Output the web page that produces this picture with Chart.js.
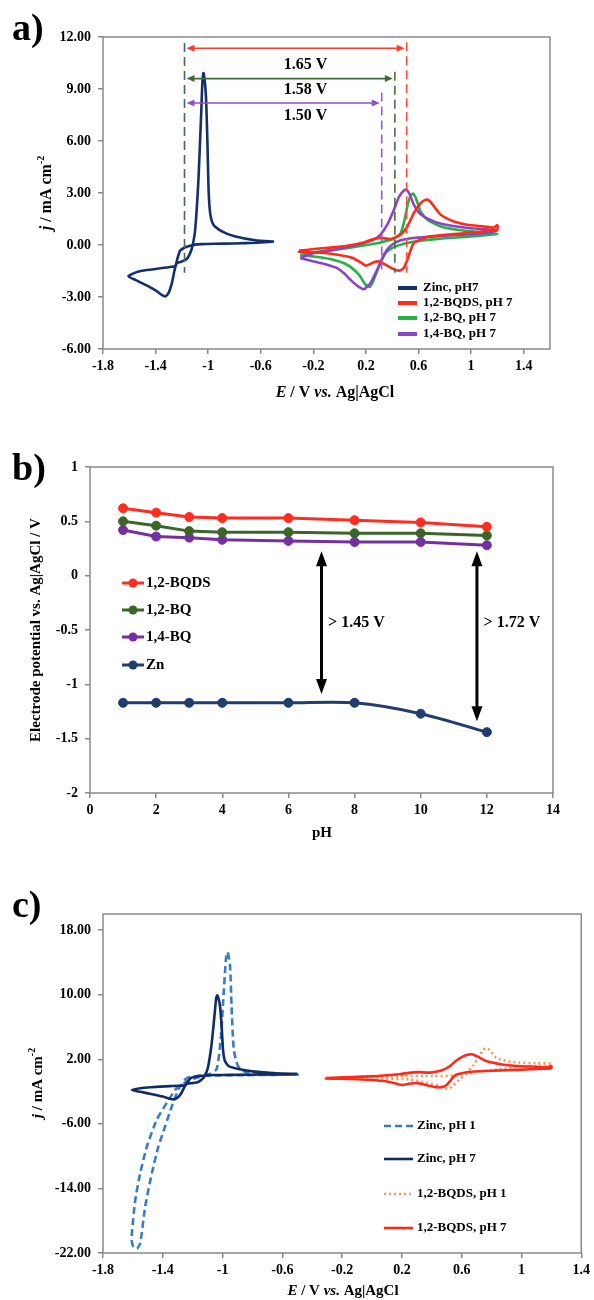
<!DOCTYPE html>
<html>
<head>
<meta charset="utf-8">
<script src="https://cdn.jsdelivr.net/npm/chart.js@4.4.1/dist/chart.umd.min.js"></script>
<style>
  body { margin: 0; background: #fff; }
  #wrap { position: relative; width: 594px; height: 1300px; }
  canvas { position: absolute; left: 0; }
</style>
</head>
<body>
<div id="wrap">
  <canvas id="chart-a" width="594" height="410" style="top:0px"></canvas>
  <canvas id="chart-b" width="594" height="440" style="top:410px"></canvas>
  <canvas id="chart-c" width="594" height="450" style="top:850px"></canvas>
</div>
<script>
// ---- panel a: CVs at pH 7 (E in V vs Ag|AgCl, j in mA cm-2) ----
var zincE = [-0.50, -0.64, -0.80, -0.95, -1.05, -1.10, -1.14, -1.175, -1.213, -1.233, -1.251, -1.30, -1.353, -1.48, -1.55, -1.607,
             -1.55, -1.48, -1.40, -1.353, -1.327, -1.302, -1.276, -1.255, -1.238, -1.20, -1.163, -1.137, -1.12, -1.099, -1.074,
             -1.053, -1.043, -1.035, -1.017, -1.005, -0.997, -0.985, -0.96, -0.895, -0.80, -0.64, -0.50];
var zincJ = [0.20, 0.13, 0.09, 0.07, 0.05, 0.02, -0.05, -0.13, -0.32, -0.76, -1.20, -1.28, -1.33, -1.46, -1.58, -1.81,
             -2.03, -2.29, -2.62, -2.88, -2.97, -2.78, -2.20, -1.43, -1.05, -0.95, -0.81, -0.47, -0.08, 0.88, 3.77,
             7.62, 9.54, 9.92, 8.58, 5.70, 3.20, 1.84, 1.17, 0.79, 0.50, 0.27, 0.20];

var bqdsE = [-0.31, -0.197, -0.07, 0.057, 0.184, 0.26, 0.311, 0.388, 0.464, 0.515, 0.565, 0.616, 0.654, 0.68, 0.718, 0.769, 0.87, 0.97, 1.10, 1.17, 1.20,
             1.20, 1.15, 0.97, 0.82, 0.667, 0.565, 0.54, 0.515, 0.49, 0.464, 0.43, 0.40, 0.35, 0.30, 0.26, 0.20, 0.16, 0.10, 0.057, -0.07, -0.197, -0.31, -0.31];
var bqdsJ = [-0.34, -0.23, -0.15, -0.04, 0.15, 0.35, 0.41, 0.35, 0.60, 1.07, 1.85, 2.42, 2.61, 2.57, 2.23, 1.75, 1.36, 1.17, 1.07, 1.00, 1.15,
             0.90, 0.84, 0.69, 0.60, 0.46, 0.12, -0.30, -0.85, -1.30, -1.46, -1.46, -1.35, -1.14, -0.95, -1.00, -1.19, -1.00, -0.75, -0.66, -0.50, -0.42, -0.38, -0.34];

var bq12E = [-0.30, -0.197, -0.07, 0.057, 0.184, 0.311, 0.413, 0.464, 0.494, 0.52, 0.545, 0.56, 0.585, 0.616, 0.667, 0.769, 0.895, 1.02, 1.15, 1.20,
             1.15, 0.946, 0.769, 0.616, 0.515, 0.413, 0.35, 0.30, 0.26, 0.23, 0.197, 0.146, 0.057, -0.07, -0.197, -0.30];
var bq12J = [-0.58, -0.42, -0.31, -0.18, -0.02, 0.15, 0.35, 0.69, 1.46, 2.42, 2.90, 2.96, 2.60, 1.94, 1.46, 1.07, 0.88, 0.77, 0.65, 0.63,
             0.60, 0.46, 0.37, 0.25, 0.12, -0.12, -0.46, -1.23, -2.00, -2.42, -2.29, -1.71, -1.14, -0.81, -0.66, -0.58];

var bq14E = [-0.30, -0.197, -0.07, 0.057, 0.184, 0.26, 0.311, 0.362, 0.413, 0.451, 0.489, 0.509, 0.534, 0.565, 0.616, 0.718, 0.82, 0.946, 1.15, 1.20,
             1.15, 0.946, 0.718, 0.565, 0.464, 0.388, 0.337, 0.286, 0.235, 0.184, 0.146, 0.095, 0.031, -0.019, -0.07, -0.121, -0.197, -0.30];
var bq14J = [-0.75, -0.46, -0.31, -0.12, 0.12, 0.31, 0.60, 1.17, 2.04, 2.77, 3.15, 3.19, 2.90, 2.32, 1.78, 1.36, 1.15, 1.01, 0.88, 0.85,
             0.73, 0.60, 0.50, 0.40, 0.27, -0.04, -0.56, -1.42, -2.19, -2.55, -2.42, -2.10, -1.62, -1.33, -1.20, -1.08, -0.95, -0.75];

// dashed reference potentials: Zn, 1,2-BQDS, 1,2-BQ, 1,4-BQ
var refE = [-1.18, 0.51, 0.42, 0.32];
var refTop = [11.65, 11.7, 10.0, 8.8];
var refBottom = [-1.6, -1.6, -1.6, -1.4];
var gapJ = [11.35, 9.6, 8.19];
var gapLabels = ["1.65 V", "1.58 V", "1.50 V"];
var gapLabelJ = [10.4, 8.96, 7.46];
var gapLabelE = -0.26;

var legendA = ["Zinc, pH7", "1,2-BQDS, pH 7", "1,2-BQ, pH 7", "1,4-BQ, pH 7"];
var xTicksA = [-1.8, -1.4, -1, -0.6, -0.2, 0.2, 0.6, 1, 1.4];
var yTicksA = [-6, -3, 0, 3, 6, 9, 12];

// ---- panel b: electrode potential vs pH ----
var pH = [1, 2, 3, 4, 6, 8, 10, 12];
var potBQDS = [0.62, 0.58, 0.54, 0.53, 0.53, 0.51, 0.49, 0.45];
var potBQ12 = [0.50, 0.46, 0.41, 0.40, 0.40, 0.39, 0.39, 0.37];
var potBQ14 = [0.42, 0.36, 0.35, 0.33, 0.32, 0.31, 0.31, 0.28];
var potZn = [-1.17, -1.17, -1.17, -1.17, -1.17, -1.17, -1.27, -1.44];
var legendB = ["1,2-BQDS", "1,2-BQ", "1,4-BQ", "Zn"];
var arrowPH = [7, 11.7];
var arrowTop = [0.225, 0.225];
var arrowBottom = [-1.09, -1.34];
var arrowLabels = ["> 1.45 V", "> 1.72 V"];
var arrowLabelPH = [7.2, 11.9];
var arrowLabelPot = -0.43;

// ---- panel c: pH 1 vs pH 7 (pH 7 curves are the ones of panel a) ----
var zincPH1E = [-0.49, -0.70, -0.90, -1.05, -1.128, -1.173, -1.217, -1.25, -1.306, -1.373, -1.44, -1.506, -1.551, -1.584, -1.607, -1.607,
                -1.596, -1.573, -1.551, -1.518, -1.473, -1.429, -1.384, -1.339, -1.295, -1.25, -1.217, -1.173, -1.128, -1.083, -1.039,
                -1.012, -0.995, -0.977, -0.966, -0.95, -0.94, -0.925, -0.897, -0.839, -0.684, -0.49];
var zincPH1J = [0.10, 0.06, 0.03, 0.0, -0.05, -0.28, -0.57, -0.90, -1.53, -3.39, -5.47, -8.79, -12.11, -15.43, -19.58, -20.60,
                -21.25, -21.45, -20.83, -16.26, -12.11, -8.79, -6.30, -3.81, -1.74, -0.49, -0.15, -0.08, 0.0, 0.2, 0.8,
                4.5, 9.5, 14.45, 15.28, 13.6, 8.64, 3.25, 1.17, 0.34, 0.13, 0.10];
var bqdsPH1E = [-0.31, -0.15, 0.073, 0.185, 0.407, 0.563, 0.63, 0.674, 0.719, 0.745, 0.763, 0.785, 0.83, 0.897, 0.986, 1.10, 1.20,
                1.20, 0.986, 0.852, 0.697, 0.63, 0.585, 0.54, 0.507, 0.452, 0.363, 0.251, 0.073, -0.15, -0.31];
var bqdsPH1J = [-0.35, -0.25, -0.15, -0.08, -0.08, 0.0, 0.34, 1.17, 2.41, 3.20, 3.37, 3.20, 2.20, 1.79, 1.59, 1.50, 1.45,
                1.20, 1.09, 0.75, 0.42, 0.10, -0.49, -1.32, -1.66, -1.32, -0.91, -0.49, -0.41, -0.40, -0.35];
var legendC = ["Zinc, pH 1", "Zinc, pH 7", "1,2-BQDS, pH 1", "1,2-BQDS, pH 7"];
var xTicksC = [-1.8, -1.4, -1, -0.6, -0.2, 0.2, 0.6, 1, 1.4];
var yTicksC = [-22, -14, -6, 2, 10, 18];

var serif = "'Liberation Serif', 'Times New Roman', serif";
var tickFont = { family: serif, weight: "bold", size: 14 };
var frameGray = "#8a8a8a";

function f(size, italic) {
    return (italic ? "italic " : "") + "bold " + size + "px " + serif;
}

function pts(xs, ys) {
    return xs.map(function(x, i) { return { x: x, y: ys[i] }; });
}

function curve(label, xs, ys, color, width, dash) {
    return {
        label: label,
        data: pts(xs, ys),
        showLine: true,
        borderColor: color,
        backgroundColor: color,
        borderWidth: width,
        borderDash: dash || [],
        pointRadius: 0,
        pointHoverRadius: 0,
        tension: 0.2,
        fill: false
    };
}

function fmtPlain(v) { return String(Math.round(v * 10) / 10); }
function fmt2(v) { return v.toFixed(2); }

function axis(min, max, tickList, fmt, size, isX) {
    var a = {
        type: "linear",
        min: min,
        max: max,
        grid: { drawOnChartArea: false, drawTicks: true, tickLength: 5, color: frameGray, lineWidth: 1.5 },
        border: { display: false },
        ticks: { color: "#000", font: tickFont, padding: isX ? 4 : 7, maxRotation: 0, autoSkip: false, callback: fmt }
    };
    if (tickList) {
        a.afterBuildTicks = function(s) { s.ticks = tickList.map(function(v) { return { value: v }; }); };
    }
    a.afterFit = function(s) { if (isX) { s.height = size; } else { s.width = size; } };
    return a;
}

// draws text made of several font runs, centred on (x, y)
function drawRich(ctx, parts, x, y, rotate) {
    ctx.save();
    ctx.translate(x, y);
    if (rotate) ctx.rotate(-Math.PI / 2);
    var total = 0;
    parts.forEach(function(p) { ctx.font = p.font; total += ctx.measureText(p.t).width; });
    var cx = -total / 2;
    ctx.textBaseline = "middle";
    ctx.textAlign = "left";
    ctx.fillStyle = "#000";
    parts.forEach(function(p) {
        ctx.font = p.font;
        ctx.fillText(p.t, cx, p.dy || 0);
        cx += ctx.measureText(p.t).width;
    });
    ctx.restore();
}

function doubleArrow(ctx, x1, y1, x2, y2, color, width, headLen, headHalf) {
    var dx = x2 - x1, dy = y2 - y1, len = Math.hypot(dx, dy);
    var ux = dx / len, uy = dy / len;
    ctx.save();
    ctx.strokeStyle = color;
    ctx.fillStyle = color;
    ctx.lineWidth = width;
    ctx.beginPath();
    ctx.moveTo(x1 + ux * headLen * 0.8, y1 + uy * headLen * 0.8);
    ctx.lineTo(x2 - ux * headLen * 0.8, y2 - uy * headLen * 0.8);
    ctx.stroke();
    [[x1, y1, -ux, -uy], [x2, y2, ux, uy]].forEach(function(h) {
        var tx = h[0], ty = h[1], vx = h[2], vy = h[3];
        ctx.beginPath();
        ctx.moveTo(tx, ty);
        ctx.lineTo(tx - vx * headLen - vy * headHalf, ty - vy * headLen + vx * headHalf);
        ctx.lineTo(tx - vx * headLen + vy * headHalf, ty - vy * headLen - vx * headHalf);
        ctx.closePath();
        ctx.fill();
    });
    ctx.restore();
}

function panelLabel(ctx, text, x, y) {
    ctx.save();
    ctx.font = "bold 38px " + serif;
    ctx.fillStyle = "#000";
    ctx.textAlign = "left";
    ctx.textBaseline = "alphabetic";
    ctx.fillText(text, x, y);
    ctx.restore();
}

var framePlugin = {
    id: "frame",
    beforeDatasetsDraw: function(chart) {
        var a = chart.chartArea, ctx = chart.ctx;
        ctx.save();
        ctx.strokeStyle = frameGray;
        ctx.lineWidth = 1.5;
        ctx.strokeRect(a.left, a.top, a.right - a.left, a.bottom - a.top);
        ctx.restore();
    }
};

function baseOptions(padding, xAxis, yAxis) {
    return {
        responsive: false,
        animation: false,
        devicePixelRatio: 1,
        layout: { padding: padding },
        plugins: { legend: { display: false }, tooltip: { enabled: false } },
        scales: { x: xAxis, y: yAxis }
    };
}

// ================= panel a =================
var colZinc = "#14306c", colRed = "#ff2a1a", colGreen = "#25b14a", colPurple = "#8d44c4";
var refColors = ["#4a5e86", "#ff4a3d", "#4d6d3c", "#9a58d2"];
var gapColors = ["#ff3b2f", "#3f6b35", "#9050c8"];

var dsA = [];
refE.forEach(function(e, i) {
    var d = curve("ref" + i, [e, e], [refTop[i], refBottom[i]], refColors[i], 1.6, [9, 5]);
    d.tension = 0;
    dsA.push(d);
});
dsA.push(curve(legendA[1], bqdsE, bqdsJ, colRed, 2.6));
dsA.push(curve(legendA[3], bq14E, bq14J, colPurple, 2.6));
dsA.push(curve(legendA[2], bq12E, bq12J, colGreen, 2.6));
dsA.push(curve(legendA[0], zincE, zincJ, colZinc, 2.6));

var annotA = {
    id: "annotA",
    afterDraw: function(chart) {
        var ctx = chart.ctx, sx = chart.scales.x, sy = chart.scales.y;
        var x0 = sx.getPixelForValue(refE[0]);
        gapJ.forEach(function(j, i) {
            var x1 = sx.getPixelForValue(refE[i + 1]);
            var y = sy.getPixelForValue(j);
            doubleArrow(ctx, x0 + 2, y, x1 - 2, y, gapColors[i], 1.6, 8, 3.5);
            ctx.save();
            ctx.font = f(16);
            ctx.fillStyle = "#000";
            ctx.textAlign = "center";
            ctx.textBaseline = "middle";
            ctx.fillText(gapLabels[i], sx.getPixelForValue(gapLabelE), sy.getPixelForValue(gapLabelJ[i]));
            ctx.restore();
        });
        // legend
        var legCols = [colZinc, colRed, colGreen, colPurple];
        var rows = [288, 303, 318, 334];
        ctx.save();
        legendA.forEach(function(t, i) {
            ctx.strokeStyle = legCols[i];
            ctx.lineWidth = 4;
            ctx.beginPath();
            ctx.moveTo(398, rows[i]);
            ctx.lineTo(417, rows[i]);
            ctx.stroke();
            ctx.font = f(13);
            ctx.fillStyle = "#000";
            ctx.textBaseline = "middle";
            ctx.textAlign = "left";
            ctx.fillText(t, 423, rows[i]);
        });
        ctx.restore();
        drawRich(ctx, [{ t: "j", font: f(16, true) }, { t: " / mA cm", font: f(16) }, { t: "-2", font: f(10), dy: -6 }], 47, 193, true);
        drawRich(ctx, [{ t: "E", font: f(16, true) }, { t: " / V ", font: f(16) }, { t: "vs.", font: f(16, true) }, { t: " Ag|AgCl", font: f(16) }], 335, 393, false);
        panelLabel(ctx, "a)", 12, 40);
    }
};

new Chart(document.getElementById("chart-a"), {
    type: "scatter",
    data: { datasets: dsA },
    options: baseOptions({ left: 0, top: 37, right: 44, bottom: 0 },
        axis(-1.8, 1.6, xTicksA, fmtPlain, 61, true),
        axis(-6, 12, yTicksA, fmt2, 103, false)),
    plugins: [framePlugin, annotA]
});

// ================= panel b =================
var colsB = ["#ff2d20", "#3a6627", "#7530a0", "#1f3d6e"];
var seriesB = [potBQDS, potBQ12, potBQ14, potZn];
var dsB = seriesB.map(function(vals, i) {
    return {
        label: legendB[i],
        data: pts(pH, vals),
        showLine: true,
        borderColor: colsB[i],
        backgroundColor: colsB[i],
        borderWidth: 3,
        pointRadius: 4.5,
        pointHoverRadius: 4.5,
        pointBorderWidth: 1,
        pointBackgroundColor: colsB[i],
        pointBorderColor: colsB[i],
        tension: i === 3 ? 0.3 : 0
    };
});

var annotB = {
    id: "annotB",
    afterDraw: function(chart) {
        var ctx = chart.ctx, sx = chart.scales.x, sy = chart.scales.y;
        arrowPH.forEach(function(p, i) {
            var x = sx.getPixelForValue(p);
            doubleArrow(ctx, x, sy.getPixelForValue(arrowTop[i]), x, sy.getPixelForValue(arrowBottom[i]), "#000", 3, 15, 5.5);
            ctx.save();
            ctx.font = f(16);
            ctx.fillStyle = "#000";
            ctx.textAlign = "left";
            ctx.textBaseline = "middle";
            ctx.fillText(arrowLabels[i], sx.getPixelForValue(arrowLabelPH[i]), sy.getPixelForValue(arrowLabelPot));
            ctx.restore();
        });
        var rows = [173, 200, 227, 255];
        ctx.save();
        legendB.forEach(function(t, i) {
            ctx.strokeStyle = colsB[i];
            ctx.fillStyle = colsB[i];
            ctx.lineWidth = 3;
            ctx.beginPath();
            ctx.moveTo(122, rows[i]);
            ctx.lineTo(144, rows[i]);
            ctx.stroke();
            ctx.beginPath();
            ctx.arc(133, rows[i], 4.5, 0, Math.PI * 2);
            ctx.fill();
            ctx.font = f(15);
            ctx.fillStyle = "#000";
            ctx.textBaseline = "middle";
            ctx.textAlign = "left";
            ctx.fillText(t, 146, rows[i]);
        });
        ctx.restore();
        drawRich(ctx, [{ t: "Electrode potential vs. Ag|AgCl / V", font: f(15) }], 36, 220, true);
        drawRich(ctx, [{ t: "pH", font: f(15) }], 322, 423, false);
        panelLabel(ctx, "b)", 12, 70);
    }
};

var xB = axis(0, 14, null, function(v) { return String(v); }, 57, true);
xB.ticks.stepSize = 2;
var yB = axis(-2, 1, null, function(v) { return String(v); }, 90, false);
yB.ticks.stepSize = 0.5;

new Chart(document.getElementById("chart-b"), {
    type: "scatter",
    data: { datasets: dsB },
    options: baseOptions({ left: 0, top: 57, right: 41, bottom: 0 }, xB, yB),
    plugins: [framePlugin, annotB]
});

// ================= panel c =================
var colZincPH1 = "#3a7cc2", colZincPH7 = "#102c66", colBqdsPH1 = "#f49a5c", colBqdsPH7 = "#ff2a1a";
var dashC = [[7, 4], [], [2, 3], []];
var colsC = [colZincPH1, colZincPH7, colBqdsPH1, colBqdsPH7];

var dsC = [
    curve(legendC[3], bqdsE, bqdsJ, colBqdsPH7, 2.6),
    curve(legendC[2], bqdsPH1E, bqdsPH1J, colBqdsPH1, 2.6, dashC[2]),
    curve(legendC[1], zincE, zincJ, colZincPH7, 2.6),
    curve(legendC[0], zincPH1E, zincPH1J, colZincPH1, 2.6, dashC[0])
];

var annotC = {
    id: "annotC",
    afterDraw: function(chart) {
        var ctx = chart.ctx;
        var rows = [276, 309, 344, 378];
        ctx.save();
        legendC.forEach(function(t, i) {
            ctx.strokeStyle = colsC[i];
            ctx.lineWidth = 2.6;
            ctx.setLineDash(dashC[i]);
            ctx.beginPath();
            ctx.moveTo(384, rows[i]);
            ctx.lineTo(413, rows[i]);
            ctx.stroke();
            ctx.setLineDash([]);
            ctx.font = f(13);
            ctx.fillStyle = "#000";
            ctx.textBaseline = "middle";
            ctx.textAlign = "left";
            ctx.fillText(t, 417, rows[i]);
        });
        ctx.restore();
        drawRich(ctx, [{ t: "j", font: f(15, true) }, { t: " / mA cm", font: f(15) }, { t: "-2", font: f(10), dy: -6 }], 38, 233, true);
        drawRich(ctx, [{ t: "E", font: f(15, true) }, { t: " / V ", font: f(15) }, { t: "vs.", font: f(15, true) }, { t: " Ag|AgCl", font: f(15) }], 343, 441, false);
        panelLabel(ctx, "c)", 12, 67);
    }
};

new Chart(document.getElementById("chart-c"), {
    type: "scatter",
    data: { datasets: dsC },
    options: baseOptions({ left: 0, top: 64, right: 11, bottom: 0 },
        axis(-1.8, 1.4, xTicksC, fmtPlain, 47, true),
        axis(-22, 20, yTicksC, fmt2, 103, false)),
    plugins: [framePlugin, annotC]
});
</script>
</body>
</html>
